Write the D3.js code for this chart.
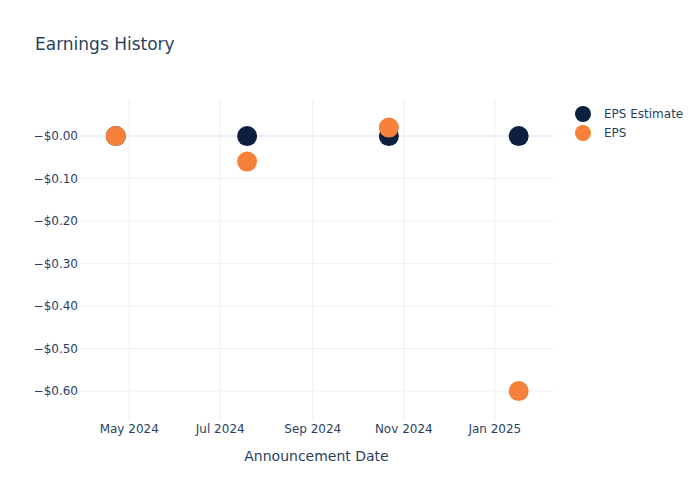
<!DOCTYPE html>
<html>
<head>
<meta charset="utf-8">
<script src="https://cdn.jsdelivr.net/npm/d3@7"></script>
<style>
  body { margin: 0; background: #fff; }
  text { font-family: "DejaVu Sans", "Open Sans", sans-serif; fill: #2a3f5f; }
</style>
</head>
<body>
<svg id="chart" width="700" height="500"></svg>
<script>
// announcement dates and values
var dates = ['2024-04-22', '2024-07-19', '2024-10-22', '2025-01-17'];
var epsEstimate = [0.00, 0.00, 0.00, 0.00];
var eps = [0.00, -0.06, 0.02, -0.60];

var yTicks = [0, -0.1, -0.2, -0.3, -0.4, -0.5, -0.6];
var yTickLabels = ['\u2212$0.00', '\u2212$0.10', '\u2212$0.20', '\u2212$0.30', '\u2212$0.40', '\u2212$0.50', '\u2212$0.60'];
var xTicks = ['2024-05-01', '2024-07-01', '2024-09-01', '2024-11-01', '2025-01-01'];
var xTickLabels = ['May 2024', 'Jul 2024', 'Sep 2024', 'Nov 2024', 'Jan 2025'];

var seriesNames = ['EPS Estimate', 'EPS'];
var seriesColors = ['#0c1f3f', '#f7813a'];

var parse = d3.timeParse('%Y-%m-%d');

var plot = { left: 80, right: 553, top: 100, bottom: 420 };

var svg = d3.select('#chart');

var x = d3.scaleTime()
	.domain([parse('2024-03-29'), parse('2025-02-09')])
	.range([plot.left, plot.right]);

var y = d3.scaleLinear()
	.domain([-0.668, 0.085])
	.range([plot.bottom, plot.top]);

//grid lines
svg.append('g').selectAll('line.xg').data(xTicks).enter().append('line')
	.attr('x1', function(d) { return x(parse(d)); })
	.attr('x2', function(d) { return x(parse(d)); })
	.attr('y1', plot.top).attr('y2', plot.bottom)
	.style('stroke', '#ebf0f8').style('stroke-width', 1);

svg.append('g').selectAll('line.yg').data(yTicks).enter().append('line')
	.attr('x1', plot.left).attr('x2', plot.right)
	.attr('y1', function(d) { return y(d); })
	.attr('y2', function(d) { return y(d); })
	.style('stroke', '#ebf0f8')
	.style('stroke-width', function(d) { return d === 0 ? 2 : 1; });

//tick labels
svg.append('g').selectAll('text').data(yTicks).enter().append('text')
	.attr('x', plot.left - 2)
	.attr('y', function(d) { return y(d); })
	.attr('dy', '0.35em')
	.attr('text-anchor', 'end')
	.style('font-size', '12px')
	.text(function(d, i) { return yTickLabels[i]; });

svg.append('g').selectAll('text').data(xTicks).enter().append('text')
	.attr('x', function(d) { return x(parse(d)); })
	.attr('y', plot.bottom + 13)
	.attr('text-anchor', 'middle')
	.style('font-size', '12px')
	.text(function(d, i) { return xTickLabels[i]; });

//titles
svg.append('text')
	.attr('x', 35).attr('y', 50)
	.style('font-size', '17px')
	.text('Earnings History');

svg.append('text')
	.attr('x', (plot.left + plot.right) / 2).attr('y', 461)
	.attr('text-anchor', 'middle')
	.style('font-size', '14px')
	.text('Announcement Date');

//markers
var series = [epsEstimate, eps];
series.forEach(function(values, s) {
	svg.append('g').selectAll('circle').data(values).enter().append('circle')
		.attr('cx', function(d, i) { return x(parse(dates[i])); })
		.attr('cy', function(d) { return y(d); })
		.attr('r', 10)
		.style('fill', seriesColors[s]);
});

//legend
var legend = svg.append('g').selectAll('g').data(seriesNames).enter().append('g')
	.attr('transform', function(d, i) { return 'translate(583,' + (114 + i * 19) + ')'; });
legend.append('circle')
	.attr('r', 8)
	.style('fill', function(d, i) { return seriesColors[i]; });
legend.append('text')
	.attr('x', 21).attr('dy', '0.35em')
	.style('font-size', '12px')
	.text(function(d) { return d; });
</script>
</body>
</html>
